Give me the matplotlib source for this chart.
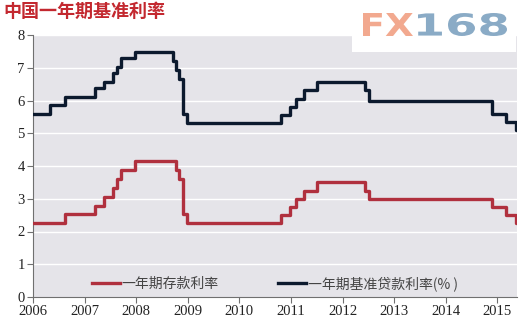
import matplotlib
matplotlib.use("Agg")
import matplotlib.pyplot as plt
import matplotlib.dates as mdates
import pandas as pd
from matplotlib.patches import Rectangle, PathPatch
from matplotlib.textpath import TextPath
from matplotlib.font_manager import FontProperties
from matplotlib.transforms import Affine2D, IdentityTransform

plt.rcParams['font.family'] = ['Noto Sans CJK SC', 'DejaVu Sans']

change_dates = ["2006-01-01", "2006-04-28", "2006-08-19", "2007-03-18", "2007-05-19",
                "2007-07-21", "2007-08-22", "2007-09-15", "2007-12-21", "2008-09-16",
                "2008-10-09", "2008-10-30", "2008-11-27", "2008-12-23", "2010-10-20",
                "2010-12-26", "2011-02-09", "2011-04-06", "2011-07-07", "2012-06-08",
                "2012-07-06", "2014-11-22", "2015-03-01", "2015-05-11", "2015-05-20"]
loan_rate = [5.58, 5.85, 6.12, 6.39, 6.57, 6.84, 7.02, 7.29, 7.47, 7.20,
             6.93, 6.66, 5.58, 5.31, 5.56, 5.81, 6.06, 6.31, 6.56, 6.31,
             6.00, 5.60, 5.35, 5.10, 5.10]
deposit_rate = [2.25, 2.25, 2.52, 2.79, 3.06, 3.33, 3.60, 3.87, 4.14, 4.14,
                3.87, 3.60, 2.52, 2.25, 2.50, 2.75, 3.00, 3.25, 3.50, 3.25,
                3.00, 2.75, 2.50, 2.25, 2.25]
year_ticks = list(range(2006, 2016))
y_ticks = list(range(0, 9))
title = "中国一年期基准利率"
deposit_label = "一年期存款利率"
loan_label = "一年期基准贷款利率(% )"

dates = pd.to_datetime(change_dates)

W, H = 526, 322
fig = plt.figure(figsize=(W/100, H/100), dpi=100)
fig.patch.set_facecolor("white")
ax = fig.add_axes([33/W, 1-297/H, (517-33)/W, (297-35)/H])
ax.set_facecolor("#e5e4e9")

ax.step(dates, deposit_rate, where="post", color="#b0303e", lw=2.4, label=deposit_label, zorder=3)
ax.step(dates, loan_rate, where="post", color="#0c1a2e", lw=2.4, label=loan_label, zorder=3)

ax.set_ylim(0, 8)
ax.set_xlim(pd.Timestamp("2006-01-01"), pd.Timestamp("2015-05-20"))
ax.set_yticks(y_ticks)
ax.set_xticks([pd.Timestamp(f"{y}-01-01") for y in year_ticks])
ax.xaxis.set_major_formatter(mdates.DateFormatter("%Y"))
for yv in y_ticks[1:]:
    ax.axhline(yv, color="white", lw=1.0, zorder=1)

for s in ["top", "right"]:
    ax.spines[s].set_visible(False)
for s in ["left", "bottom"]:
    ax.spines[s].set_color("#707070")
    ax.spines[s].set_linewidth(0.8)
ax.tick_params(axis="both", direction="out", length=4, width=0.8, color="#707070",
               labelsize=10.5, labelcolor="#222222", pad=2)
for lab in ax.get_xticklabels() + ax.get_yticklabels():
    lab.set_family("Liberation Serif")

leg = ax.legend(loc="lower center", ncol=2, frameon=False, bbox_to_anchor=(0.5, -0.025),
                fontsize=10, handlelength=2.0, handletextpad=0.1, columnspacing=4.3,
                labelcolor="#444444")

# logo box
fig.patches.append(Rectangle((352/W, 1-52/H), (516-352)/W, 52/H,
                             transform=fig.transFigure, facecolor="white",
                             edgecolor="none", zorder=5))


def logo_text(s, x0, x1, ytop, ybot, color):
    tp = TextPath((0, 0), s, size=30, prop=FontProperties(family="DejaVu Sans", weight="bold"))
    ext = tp.get_extents()
    sx = (x1 - x0) / ext.width
    sy = (ybot - ytop) / ext.height
    tr = Affine2D().translate(-ext.x0, -ext.y0).scale(sx, sy).translate(x0, H - ybot)
    fig.patches.append(PathPatch(tr.transform_path(tp), transform=IdentityTransform(),
                                 facecolor=color, edgecolor="none", zorder=6))


logo_text("FX", 363, 413, 13, 36, "#f2a98f")
logo_text("168", 418, 507, 13, 36, "#8aabc6")

fig.text(3/W, 1-11/H, title, color="#c3282f", fontsize=13, fontweight="bold",
         va="center", ha="left")

fig.savefig("out.png", dpi=100)
